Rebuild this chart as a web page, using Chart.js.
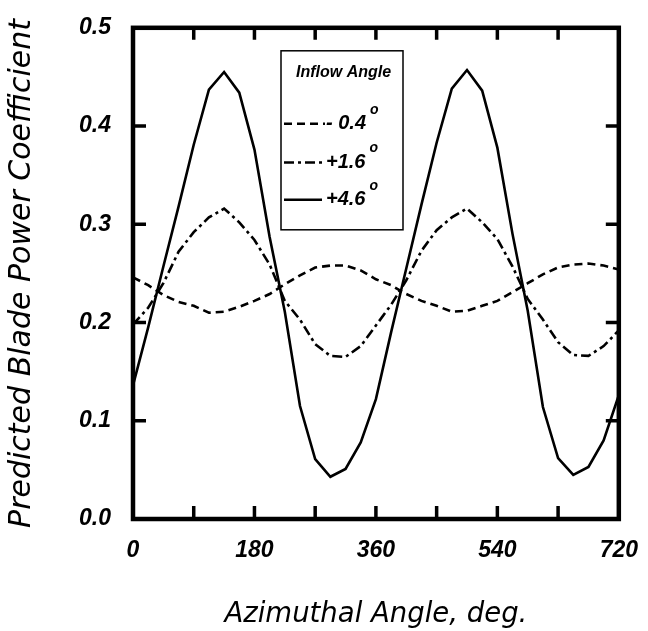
<!DOCTYPE html>
<html>
<head>
<meta charset="utf-8">
<script src="https://cdn.jsdelivr.net/npm/chart.js@4.4.1/dist/chart.umd.min.js"></script>
<style>
  html, body { margin: 0; padding: 0; background: #fff; }
  canvas { display: block; }
</style>
</head>
<body>
<canvas id="myChart" width="648" height="631"></canvas>
<script>
// azimuth angles (deg), one point every 22.5 deg
var angles = [0, 22.5, 45, 67.5, 90, 112.5, 135, 157.5, 180, 202.5, 225, 247.5, 270, 292.5, 315, 337.5,
  360, 382.5, 405, 427.5, 450, 472.5, 495, 517.5, 540, 562.5, 585, 607.5, 630, 652.5, 675, 697.5, 720];

// predicted blade power coefficient for each inflow angle
var minus04 = [0.246, 0.238, 0.228, 0.221, 0.217, 0.210, 0.211, 0.216, 0.222, 0.229, 0.239, 0.248, 0.256, 0.258, 0.258, 0.253,
  0.244, 0.238, 0.229, 0.222, 0.217, 0.211, 0.212, 0.217, 0.222, 0.231, 0.240, 0.249, 0.256, 0.259, 0.260, 0.258, 0.254];
var plus16 = [0.198, 0.215, 0.240, 0.272, 0.292, 0.307, 0.316, 0.302, 0.284, 0.259, 0.222, 0.203, 0.178, 0.166, 0.165, 0.176,
  0.197, 0.218, 0.243, 0.273, 0.294, 0.307, 0.316, 0.302, 0.285, 0.257, 0.224, 0.203, 0.180, 0.167, 0.166, 0.176, 0.192];
var plus46 = [0.136, 0.195, 0.257, 0.318, 0.381, 0.437, 0.455, 0.434, 0.376, 0.287, 0.211, 0.115, 0.061, 0.043, 0.051, 0.078,
  0.122, 0.190, 0.255, 0.320, 0.383, 0.438, 0.457, 0.436, 0.378, 0.290, 0.212, 0.114, 0.062, 0.045, 0.053, 0.080, 0.126];

var xTickLabels = [0, 180, 360, 540, 720];
var seriesLabels = ["- 0.4", "+1.6", "+4.6"];
var legendTitle = "Inflow Angle";

function toPoints(vals) {
  return angles.map((a, i) => ({ x: a, y: vals[i] }));
}

var tickFont = { family: '"Liberation Sans", Arial, sans-serif', size: 23, style: 'italic', weight: 'bold' };

// frame, inward tick marks and the boxed legend
const frameAndLegend = {
  id: 'frameAndLegend',
  afterDatasetsDraw(chart) {
    const ctx = chart.ctx;
    const a = chart.chartArea;
    const x = chart.scales.x, y = chart.scales.y;
    ctx.save();
    ctx.strokeStyle = '#000';
    ctx.lineWidth = 3.5;
    ctx.beginPath();
    x.ticks.forEach(t => {
      if (t.value <= x.min || t.value >= x.max) return;
      const px = x.getPixelForValue(t.value);
      ctx.moveTo(px, a.bottom); ctx.lineTo(px, a.bottom - 13);
      ctx.moveTo(px, a.top); ctx.lineTo(px, a.top + 12);
    });
    y.ticks.forEach(t => {
      if (t.value <= y.min + 1e-9 || t.value >= y.max - 1e-9) return;
      const py = y.getPixelForValue(t.value);
      ctx.moveTo(a.left, py); ctx.lineTo(a.left + 13, py);
      ctx.moveTo(a.right, py); ctx.lineTo(a.right - 13, py);
    });
    ctx.stroke();
    ctx.lineWidth = 4.5;
    ctx.strokeRect(a.left, a.top, a.right - a.left, a.bottom - a.top);

    // legend box
    const bx = a.left + 148, by = a.top + 23;
    ctx.fillStyle = '#fff';
    ctx.fillRect(bx, by, 122, 179);
    ctx.lineWidth = 1.5;
    ctx.strokeRect(bx, by, 122, 179);
    ctx.fillStyle = '#000';
    ctx.textBaseline = 'middle';
    ctx.textAlign = 'left';
    ctx.font = 'italic bold 16px "Liberation Sans", Arial, sans-serif';
    ctx.fillText(legendTitle, bx + 15, by + 22);
    const rows = [by + 73, by + 111.7, by + 149];
    chart.data.datasets.forEach((ds, i) => {
      const ry = rows[i];
      ctx.save();
      ctx.lineWidth = ds.borderWidth;
      ctx.setLineDash(ds.borderDash || []);
      ctx.beginPath();
      ctx.moveTo(bx + 3, ry);
      ctx.lineTo(bx + (i === 0 ? 44 : 41), ry);
      ctx.stroke();
      ctx.restore();
      ctx.font = 'italic bold 20px "Liberation Sans", Arial, sans-serif';
      const tx = bx + 45;
      ctx.fillText(ds.label, tx, ry);
      const w = ctx.measureText(ds.label).width;
      ctx.font = 'italic bold 14px "Liberation Sans", Arial, sans-serif';
      ctx.fillText('o', tx + w + 4, ry - 14);
    });
    ctx.restore();
  }
};

new Chart(document.getElementById("myChart"), {
  type: 'line',
  data: {
    datasets: [
      {
        label: seriesLabels[0],
        data: toPoints(minus04),
        borderColor: '#000',
        borderWidth: 2.6,
        borderDash: [8, 5],
        pointRadius: 0,
        fill: false,
      },
      {
        label: seriesLabels[1],
        data: toPoints(plus16),
        borderColor: '#000',
        borderWidth: 2.6,
        borderDash: [10, 4, 3, 4],
        pointRadius: 0,
        fill: false,
      },
      {
        label: seriesLabels[2],
        data: toPoints(plus46),
        borderColor: '#000',
        borderWidth: 2.6,
        pointRadius: 0,
        fill: false,
      },
    ],
  },
  options: {
    responsive: false,
    animation: false,
    devicePixelRatio: 1,
    layout: { padding: { left: 0, right: 9, top: 20, bottom: 0 } },
    plugins: {
      legend: { display: false },
      tooltip: { enabled: false },
    },
    scales: {
      x: {
        type: 'linear',
        min: 0,
        max: 720,
        grid: { display: false },
        border: { display: false },
        ticks: {
          stepSize: 90,
          autoSkip: false,
          maxRotation: 0,
          color: '#000',
          font: tickFont,
          padding: 10,
          callback: (v) => xTickLabels.includes(v) ? String(v) : '',
        },
        title: {
          display: true,
          text: 'Azimuthal Angle, deg.',
          color: '#000',
          font: { family: '"DejaVu Sans", sans-serif', size: 27.5, style: 'italic' },
          padding: { top: 0, bottom: 0 },
        },
        afterFit: (s) => { s.height = 112; },
      },
      y: {
        min: 0,
        max: 0.5,
        grid: { display: false },
        border: { display: false },
        ticks: {
          stepSize: 0.1,
          color: '#000',
          font: tickFont,
          padding: 14,
          callback: (v) => v.toFixed(1),
        },
        title: {
          display: true,
          text: 'Predicted Blade Power Coefficient',
          color: '#000',
          font: { family: '"DejaVu Sans", sans-serif', size: 30, style: 'italic' },
          padding: { top: 4, bottom: 0 },
        },
        afterFit: (s) => { s.width = 133; },
      },
    },
  },
  plugins: [frameAndLegend],
});
</script>
</body>
</html>
